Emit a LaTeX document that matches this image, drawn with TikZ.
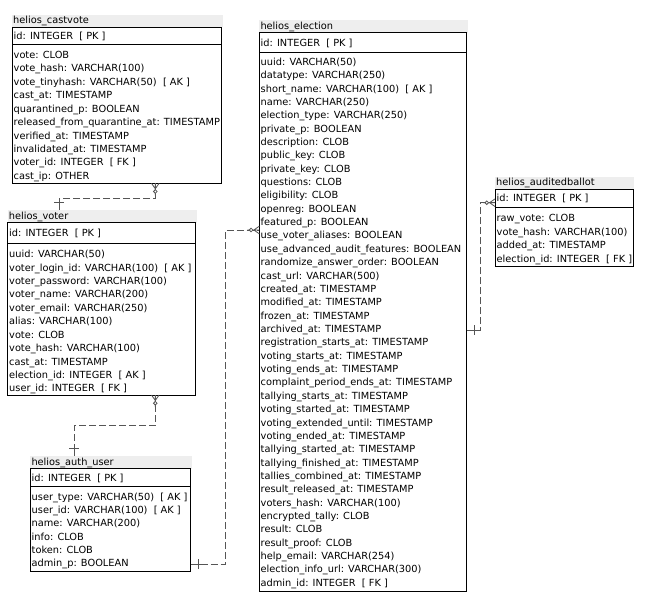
\documentclass[tikz,border=0pt]{standalone}
\usepackage{fontspec}
\setmainfont{DejaVu Sans}
\usetikzlibrary{calc}
\definecolor{bandgray}{HTML}{EEEEEE}
\definecolor{linegray}{HTML}{555555}
\tikzset{
  tbox/.style={draw=black, line width=0.9pt, fill=white, anchor=north west, inner sep=0pt, outer sep=0pt},
  band/.style={fill=bandgray, draw=none, anchor=north west, inner sep=0pt, outer sep=0pt, minimum height=12.7pt},
  rowtext/.style={anchor=base west, inner sep=0pt, font=\fontsize{9.8}{12}\selectfont},
  conn/.style={draw=linegray, line width=0.8pt, dash pattern=on 7pt off 3pt},
  stub/.style={draw=linegray, line width=0.8pt},
  sepline/.style={draw=black, line width=0.9pt},
  manyzero/.pic={\draw[stub] (0,3.8) -- (5.5,0) -- (0,-3.8) (0,0) -- (12,0);
                 \draw[stub, fill=white] (8.2,0) circle (1.8pt);},
  onlyone/.pic={\draw[stub] (0,0) -- (12,0) (7.5,-5) -- (7.5,5);}
}
\begin{document}
\begin{tikzpicture}[x=1pt, y=-1pt]
\useasboundingbox (0,0) rectangle (648,610);

% ---------- tables: bands and boxes ----------
\node[band, minimum width=210.5pt] (cvT) at (12,14.6) {};
\node[tbox, minimum width=209.5pt, minimum height=156pt] (cv) at (12,27.3) {};
\node[band, minimum width=189pt] (vtT) at (7.7,210) {};
\node[tbox, minimum width=188pt, minimum height=172.3pt] (vt) at (7.7,222.7) {};
\node[band, minimum width=161.4pt] (auT) at (30.3,456) {};
\node[tbox, minimum width=160.4pt, minimum height=102.6pt] (au) at (30.3,468.7) {};
\node[band, minimum width=208.2pt] (elT) at (259.3,20) {};
\node[tbox, minimum width=207.4pt, minimum height=558.3pt] (el) at (259.3,32.7) {};
\node[band, minimum width=139pt] (abT) at (495,176.6) {};
\node[tbox, minimum width=138.3pt, minimum height=77.4pt] (ab) at (495,189.3) {};

% ---------- connectors ----------
\coordinate (cvA) at ($(cv.south west)+(143.3,0)$);
\coordinate (vtA) at ($(vtT.north west)+(51.3,0)$);
\draw[conn] (cvA) -- ++(0,14.7) -| (vtA);

\coordinate (vtB) at ($(vt.south west)+(147.6,0)$);
\coordinate (auB) at ($(auT.north west)+(44,0)$);
\draw[conn] (vtB) -- ++(0,30.7) -| (auB);

\coordinate (auC) at ($(au.south east)+(0,-7.3)$);
\coordinate (elC) at ($(el.north west)+(0,197.3)$);
\draw[conn] (auC) -- ++(35,0) |- (elC);

\coordinate (elD) at ($(el.north east)+(0,297.3)$);
\coordinate (abD) at ($(ab.north west)+(0,13.4)$);
\draw[conn] (elD) -- ++(14,0) |- (abD);

\pic[rotate=-90] at (cvA) {manyzero};
\pic[rotate=90] at (vtA) {onlyone};
\pic[rotate=-90] at (vtB) {manyzero};
\pic[rotate=90] at (auB) {onlyone};
\pic at (auC) {onlyone};
\pic[rotate=180] at (elC) {manyzero};
\pic at (elD) {onlyone};
\pic[rotate=180] at (abD) {manyzero};

% ---------- helios_castvote ----------
\node[rowtext] (cvt) at (13,23.8) {helios\_castvote};
\draw[sepline] ($(cv.north west)+(0,17.4)$) -- ($(cv.north east)+(0,17.4)$);
\node[rowtext] (cvpk) at (13.5,39.6) {id: INTEGER~~[ PK ]};
\foreach \t [count=\i from 0] in {vote: CLOB, vote\_hash: VARCHAR(100), vote\_tinyhash: VARCHAR(50)~~[ AK ], cast\_at: TIMESTAMP, quarantined\_p: BOOLEAN, released\_from\_quarantine\_at: TIMESTAMP, verified\_at: TIMESTAMP, invalidated\_at: TIMESTAMP, voter\_id: INTEGER~~[ FK ], cast\_ip: OTHER}
  \node[rowtext] (cv-\i) at (13.5,{58.6+13.4*\i}) {\t};

% ---------- helios_voter ----------
\node[rowtext] (vtt) at (8.7,219.2) {helios\_voter};
\draw[sepline] ($(vt.north west)+(0,20.6)$) -- ($(vt.north east)+(0,20.6)$);
\node[rowtext] (vtpk) at (9,236.6) {id: INTEGER~~[ PK ]};
\foreach \t [count=\i from 0] in {uuid: VARCHAR(50), voter\_login\_id: VARCHAR(100)~~[ AK ], voter\_password: VARCHAR(100), voter\_name: VARCHAR(200), voter\_email: VARCHAR(250), alias: VARCHAR(100), vote: CLOB, vote\_hash: VARCHAR(100), cast\_at: TIMESTAMP, election\_id: INTEGER~~[ AK ], user\_id: INTEGER~~[ FK ]}
  \node[rowtext] (vt-\i) at (9,{257.6+13.43*\i}) {\t};

% ---------- helios_auth_user ----------
\node[rowtext] (aut) at (31.3,465.2) {helios\_auth\_user};
\draw[sepline] ($(au.north west)+(0,18)$) -- ($(au.north east)+(0,18)$);
\node[rowtext] (aupk) at (31.5,481.3) {id: INTEGER~~[ PK ]};
\foreach \t [count=\i from 0] in {user\_type: VARCHAR(50)~~[ AK ], user\_id: VARCHAR(100)~~[ AK ], name: VARCHAR(200), info: CLOB, token: CLOB, admin\_p: BOOLEAN}
  \node[rowtext] (au-\i) at (31.5,{500.3+13.3*\i}) {\t};

% ---------- helios_election ----------
\node[rowtext] (elt) at (260.3,29.2) {helios\_election};
\draw[sepline] ($(el.north west)+(0,19.6)$) -- ($(el.north east)+(0,19.6)$);
\node[rowtext] (elpk) at (260.5,46.1) {id: INTEGER~~[ PK ]};
\foreach \t [count=\i from 0] in {uuid: VARCHAR(50), datatype: VARCHAR(250), short\_name: VARCHAR(100)~~[ AK ], name: VARCHAR(250), election\_type: VARCHAR(250), private\_p: BOOLEAN, description: CLOB, public\_key: CLOB, private\_key: CLOB, questions: CLOB, eligibility: CLOB, openreg: BOOLEAN, featured\_p: BOOLEAN, use\_voter\_aliases: BOOLEAN, use\_advanced\_audit\_features: BOOLEAN, randomize\_answer\_order: BOOLEAN, cast\_url: VARCHAR(500), created\_at: TIMESTAMP, modified\_at: TIMESTAMP, frozen\_at: TIMESTAMP, archived\_at: TIMESTAMP, registration\_starts\_at: TIMESTAMP, voting\_starts\_at: TIMESTAMP, voting\_ends\_at: TIMESTAMP, complaint\_period\_ends\_at: TIMESTAMP, tallying\_starts\_at: TIMESTAMP, voting\_started\_at: TIMESTAMP, voting\_extended\_until: TIMESTAMP, voting\_ended\_at: TIMESTAMP, tallying\_started\_at: TIMESTAMP, tallying\_finished\_at: TIMESTAMP, tallies\_combined\_at: TIMESTAMP, result\_released\_at: TIMESTAMP, voters\_hash: VARCHAR(100), encrypted\_tally: CLOB, result: CLOB, result\_proof: CLOB, help\_email: VARCHAR(254), election\_info\_url: VARCHAR(300), admin\_id: INTEGER~~[ FK ]}
  \node[rowtext] (el-\i) at (260.5,{65.3+13.36*\i}) {\t};

% ---------- helios_auditedballot ----------
\node[rowtext] (abt) at (496,185.8) {helios\_auditedballot};
\draw[sepline] ($(ab.north west)+(0,18)$) -- ($(ab.north east)+(0,18)$);
\node[rowtext] (abpk) at (496.5,201.9) {id: INTEGER~~[ PK ]};
\foreach \t [count=\i from 0] in {raw\_vote: CLOB, vote\_hash: VARCHAR(100), added\_at: TIMESTAMP, election\_id: INTEGER~~[ FK ]}
  \node[rowtext] (ab-\i) at (496.5,{221.9+13.4*\i}) {\t};
\end{tikzpicture}
\end{document}
